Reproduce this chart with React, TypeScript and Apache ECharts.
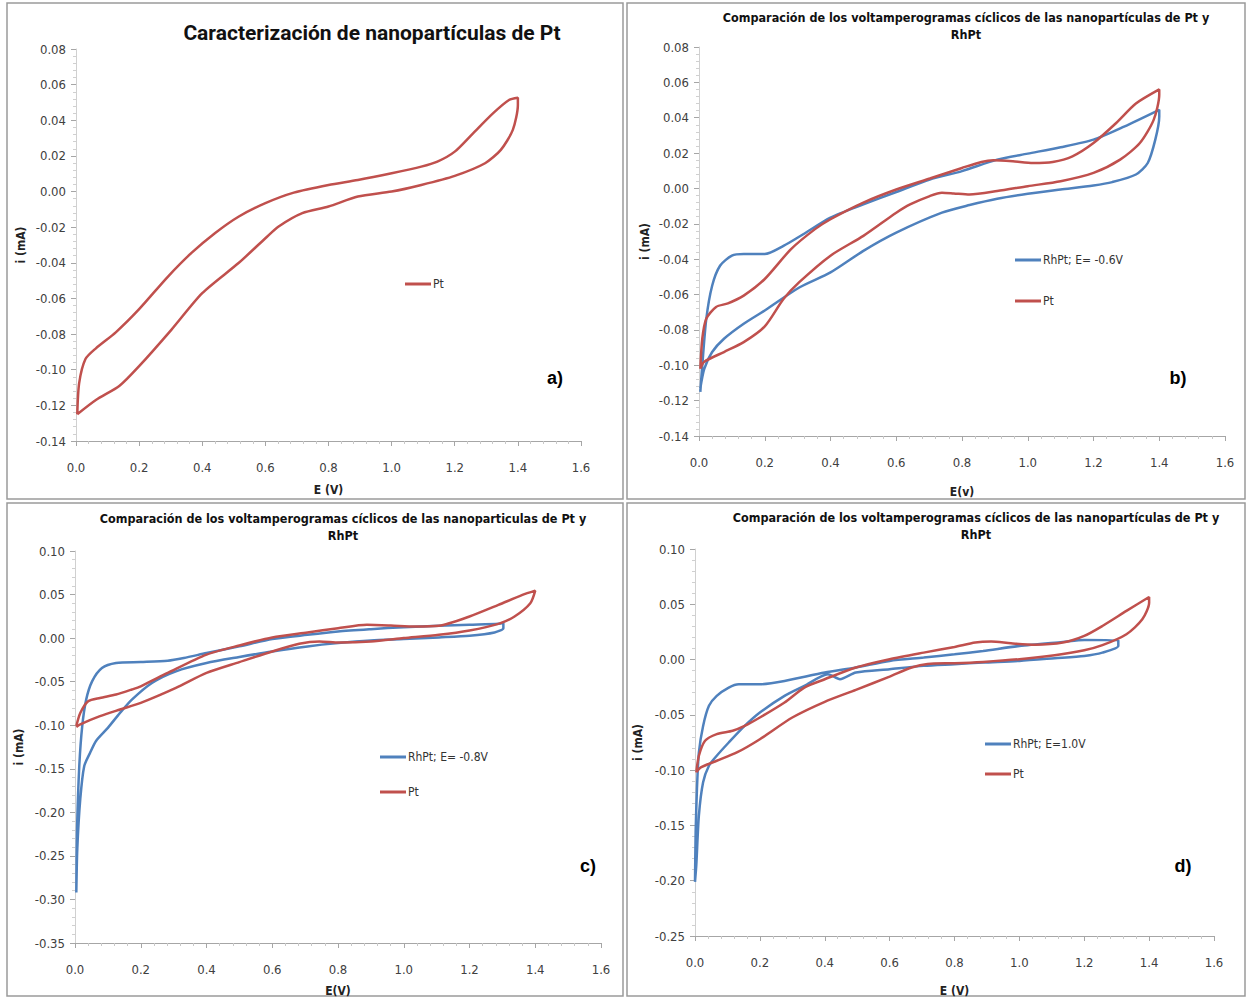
import React, { useEffect, useRef } from "react";
import * as echarts from "echarts";

// ---------- DATA ----------
const xTicks = [0, 0.2, 0.4, 0.6, 0.8, 1.0, 1.2, 1.4, 1.6];

const titleA = "Caracterización de nanopartículas de Pt";
const titleB = "Comparación de los voltamperogramas cíclicos de las nanopartículas de Pt y\nRhPt";
const titleC = "Comparación de los voltamperogramas cíclicos de las nanoparticulas de Pt y\nRhPt";
const titleD = "Comparación de los voltamperogramas cíclicos de las nanopartículas de Pt y\nRhPt";

const nameRhB = "RhPt; E= -0.6V";
const nameRhC = "RhPt; E= -0.8V";
const nameRhD = "RhPt; E=1.0V";
const namePt = "Pt";

// Panel a) Pt
const ptA: number[][] = [
  [0.004, -0.125], [0.01, -0.1075], [0.03, -0.094], [0.063, -0.088], [0.126, -0.079],
  [0.2, -0.066], [0.29, -0.048], [0.365, -0.0346], [0.44, -0.0234], [0.516, -0.014],
  [0.6, -0.0065], [0.69, -0.0006], [0.8, 0.0037], [0.893, 0.0065], [1.0, 0.0103],
  [1.094, 0.014], [1.145, 0.0168], [1.2, 0.0224], [1.258, 0.0327], [1.321, 0.0439],
  [1.372, 0.0514], [1.4, 0.0527], [1.4, 0.0486], [1.384, 0.0346], [1.346, 0.0234],
  [1.296, 0.0159], [1.2, 0.0088], [1.094, 0.0037], [1.0, 0.0], [0.893, -0.0028],
  [0.8, -0.0084], [0.717, -0.0121], [0.642, -0.0196], [0.6, -0.0262], [0.516, -0.04],
  [0.4, -0.057], [0.302, -0.0776], [0.2, -0.098], [0.138, -0.109], [0.063, -0.117],
  [0.004, -0.125],
];

// Panel b) Pt and RhPt E=-0.6V
const ptB: number[][] = [
  [0.004, -0.102], [0.01, -0.085], [0.022, -0.0737], [0.052, -0.067], [0.088, -0.065],
  [0.136, -0.0606], [0.2, -0.0512], [0.28, -0.0343], [0.353, -0.023], [0.4, -0.0174],
  [0.5, -0.008], [0.6, -0.0006], [0.702, 0.0056], [0.8, 0.0116], [0.859, 0.015],
  [0.895, 0.016], [0.955, 0.0154], [1.016, 0.0144], [1.076, 0.015], [1.136, 0.0182],
  [1.2, 0.0257], [1.269, 0.037], [1.329, 0.048], [1.4, 0.056], [1.4, 0.053],
  [1.383, 0.0388], [1.341, 0.0257], [1.281, 0.0163], [1.2, 0.0088], [1.1, 0.0041],
  [1.0, 0.0013], [0.907, -0.0015], [0.823, -0.0034], [0.775, -0.0028], [0.739, -0.0024],
  [0.702, -0.0043], [0.642, -0.009], [0.6, -0.0137], [0.5, -0.0268], [0.4, -0.038],
  [0.305, -0.053], [0.257, -0.0625], [0.2, -0.078], [0.136, -0.0869], [0.076, -0.0925],
  [0.016, -0.098], [0.004, -0.102],
];
const rhB: number[][] = [
  [0.004, -0.115], [0.01, -0.1], [0.022, -0.074], [0.04, -0.055], [0.064, -0.0437],
  [0.1, -0.038], [0.136, -0.0371], [0.2, -0.0371], [0.257, -0.0325], [0.317, -0.0259],
  [0.4, -0.0165], [0.5, -0.009], [0.6, -0.002], [0.702, 0.0051], [0.8, 0.0098],
  [0.907, 0.0163], [1.0, 0.0197], [1.1, 0.0233], [1.2, 0.0276], [1.293, 0.035],
  [1.4, 0.0445], [1.4, 0.0407], [1.388, 0.0276], [1.365, 0.0144], [1.329, 0.0079],
  [1.257, 0.0036], [1.2, 0.0017], [1.1, -0.0006], [1.0, -0.003], [0.907, -0.0058],
  [0.823, -0.0094], [0.739, -0.0137], [0.6, -0.025], [0.5, -0.0353], [0.4, -0.0475],
  [0.305, -0.056], [0.2, -0.069], [0.136, -0.0765], [0.076, -0.085], [0.04, -0.0925],
  [0.016, -0.102], [0.004, -0.113],
];

// Panel c) Pt and RhPt E=-0.8V
const ptC: number[][] = [
  [0.004, -0.101], [0.016, -0.086], [0.04, -0.0725], [0.076, -0.0687], [0.125, -0.0648],
  [0.173, -0.059], [0.2, -0.0553], [0.282, -0.04], [0.4, -0.019], [0.5, -0.0084],
  [0.6, 0.0008], [0.707, 0.0065], [0.8, 0.0114], [0.888, 0.0153], [0.961, 0.0145],
  [1.034, 0.0133], [1.107, 0.0141], [1.2, 0.0248], [1.288, 0.0381], [1.361, 0.0496],
  [1.4, 0.0545], [1.385, 0.04], [1.337, 0.0248], [1.288, 0.0164], [1.2, 0.0088],
  [1.107, 0.0038], [1.0, 0.0], [0.9, -0.0038], [0.804, -0.005], [0.743, -0.0038],
  [0.682, -0.0065], [0.6, -0.0153], [0.5, -0.0275], [0.4, -0.04], [0.307, -0.0572],
  [0.2, -0.0744], [0.137, -0.082], [0.076, -0.0896], [0.016, -0.099], [0.004, -0.102],
];
const rhC: number[][] = [
  [0.004, -0.292], [0.006, -0.223], [0.013, -0.147], [0.022, -0.101], [0.034, -0.0706],
  [0.052, -0.0496], [0.082, -0.0343], [0.125, -0.0286], [0.2, -0.0275], [0.282, -0.026],
  [0.331, -0.0229], [0.4, -0.0172], [0.5, -0.0095], [0.6, -0.0011], [0.707, 0.0038],
  [0.8, 0.0076], [0.9, 0.0103], [1.0, 0.0126], [1.107, 0.0141], [1.2, 0.0153],
  [1.288, 0.0164], [1.303, 0.0172], [1.303, 0.0114], [1.276, 0.0065], [1.2, 0.0027],
  [1.107, 0.0008], [1.0, -0.0011], [0.9, -0.0027], [0.8, -0.0057], [0.707, -0.0095],
  [0.6, -0.0153], [0.5, -0.0217], [0.4, -0.0286], [0.307, -0.0381], [0.234, -0.0515],
  [0.173, -0.0706], [0.137, -0.0858], [0.1, -0.103], [0.064, -0.118], [0.046, -0.1316],
  [0.028, -0.147], [0.016, -0.185], [0.007, -0.242], [0.004, -0.292],
];

// Panel d) Pt and RhPt E=1.0V
const ptD: number[][] = [
  [0.004, -0.102], [0.012, -0.087], [0.031, -0.0734], [0.067, -0.0674], [0.116, -0.0644],
  [0.153, -0.06], [0.2, -0.0524], [0.276, -0.0388], [0.337, -0.0253], [0.4, -0.0178],
  [0.496, -0.0072], [0.6, 0.0003], [0.705, 0.0063], [0.8, 0.0114], [0.864, 0.0154],
  [0.913, 0.0163], [0.974, 0.0147], [1.048, 0.0135], [1.134, 0.0154], [1.2, 0.0214],
  [1.256, 0.0304], [1.33, 0.044], [1.4, 0.0566], [1.4, 0.0515], [1.379, 0.0364],
  [1.33, 0.0229], [1.256, 0.013], [1.2, 0.0084], [1.109, 0.0039], [1.0, 0.0003],
  [0.888, -0.0021], [0.8, -0.0033], [0.717, -0.0039], [0.668, -0.0072], [0.6, -0.0154],
  [0.496, -0.0274], [0.4, -0.0382], [0.3, -0.0524], [0.2, -0.072], [0.129, -0.084],
  [0.067, -0.0915], [0.018, -0.0975], [0.004, -0.102],
];
const rhD: number[][] = [
  [0.0, -0.201], [0.002, -0.156], [0.006, -0.117], [0.012, -0.084], [0.025, -0.06],
  [0.043, -0.0418], [0.067, -0.0328], [0.104, -0.0253], [0.135, -0.0223], [0.2, -0.0223],
  [0.276, -0.0193], [0.4, -0.0117], [0.496, -0.0072], [0.6, -0.0012], [0.705, 0.0018],
  [0.8, 0.0048], [0.888, 0.0078], [1.0, 0.0123], [1.134, 0.016], [1.2, 0.0178],
  [1.305, 0.0175], [1.305, 0.0123], [1.256, 0.0063], [1.2, 0.0033], [1.109, 0.0012],
  [1.0, -0.0012], [0.888, -0.0027], [0.8, -0.0042], [0.705, -0.0057], [0.6, -0.0087],
  [0.496, -0.0117], [0.447, -0.0178], [0.41, -0.0132], [0.337, -0.0238], [0.276, -0.0328],
  [0.2, -0.0479], [0.153, -0.06], [0.104, -0.075], [0.067, -0.087], [0.043, -0.096],
  [0.025, -0.111], [0.012, -0.141], [0.004, -0.186], [0.0, -0.201],
];

// ---------- STYLE ----------
const RED = "#C0504D";
const BLUE = "#4F81BD";
const NARROW = "'Liberation Sans Narrow', 'Arial Narrow', 'DejaVu Sans Condensed', sans-serif";
const TITLE_A_FONT = "Roboto, 'Liberation Sans', sans-serif";

function xAxisCfg(gridIndex: number, name: string, nameGap: number) {
  return {
    type: "value",
    gridIndex,
    min: xTicks[0],
    max: xTicks[xTicks.length - 1],
    interval: 0.2,
    name,
    nameLocation: "middle",
    nameGap,
    nameTextStyle: { fontWeight: "bold", fontSize: 12, color: "#222", fontFamily: NARROW },
    axisLine: { onZero: false, lineStyle: { color: "#a6a6a6", width: 1 } },
    axisTick: { show: true, length: 5, lineStyle: { color: "#a6a6a6" } },
    minorTick: { show: true, splitNumber: 5, length: 3, lineStyle: { color: "#c8c8c8" } },
    splitLine: { show: false },
    axisLabel: {
      formatter: (v: number) => v.toFixed(1),
      margin: 20,
      fontSize: 13,
      color: "#404040",
      fontFamily: NARROW,
    },
  };
}

function yAxisCfg(gridIndex: number, min: number, max: number, interval: number, nameGap: number) {
  return {
    type: "value",
    gridIndex,
    min,
    max,
    interval,
    name: "i (mA)",
    nameLocation: "middle",
    nameGap,
    nameRotate: 90,
    nameTextStyle: { fontWeight: "bold", fontSize: 12, color: "#222", fontFamily: NARROW },
    axisLine: { onZero: false, lineStyle: { color: "#d0d0d0", width: 1 } },
    axisTick: { show: true, length: 5, lineStyle: { color: "#a6a6a6" } },
    minorTick: { show: true, splitNumber: 5, length: 3, lineStyle: { color: "#d0d0d0" } },
    splitLine: { show: false },
    axisLabel: {
      formatter: (v: number) => v.toFixed(2),
      margin: 10,
      fontSize: 13,
      color: "#404040",
      fontFamily: NARROW,
    },
  };
}

function lineSeries(name: string, data: number[][], idx: number, color: string) {
  return {
    type: "line",
    name,
    data,
    xAxisIndex: idx,
    yAxisIndex: idx,
    symbol: "none",
    showSymbol: false,
    smooth: 0.25,
    lineStyle: { color, width: 2.5 },
    itemStyle: { color },
  };
}

function legendCfg(left: number, top: number, data: string[], itemGap: number) {
  return {
    left,
    top,
    orient: "vertical",
    icon: "rect",
    itemWidth: 26,
    itemHeight: 3,
    itemGap,
    data,
    textStyle: { fontSize: 12, color: "#333", fontFamily: NARROW, padding: [0, 0, 0, -3] },
  };
}

function titleText(x: number, y: number, text: string, font: string, lineHeight: number) {
  return {
    type: "text",
    x,
    y,
    style: {
      text,
      fill: "#111",
      font,
      textAlign: "center",
      textVerticalAlign: "top",
      lineHeight,
    },
  };
}

function panelLabel(x: number, y: number, text: string) {
  return {
    type: "text",
    x,
    y,
    style: {
      text,
      fill: "#000",
      font: "bold 18px 'Liberation Sans', Arial, sans-serif",
      textAlign: "center",
      textVerticalAlign: "middle",
    },
  };
}

function frame(x1: number, y1: number, x2: number, y2: number) {
  return {
    type: "rect",
    shape: { x: x1, y: y1, width: x2 - x1, height: y2 - y1 },
    style: { fill: "none", stroke: "#9a9a9a", lineWidth: 1.5 },
    silent: true,
  };
}

export default function App() {
  const ref = useRef<HTMLDivElement>(null);

  useEffect(() => {
    if (!ref.current) return;
    const chart = echarts.init(ref.current, null, { renderer: "svg" });
    const smallTitle = `bold 12.5px ${NARROW}`;
    chart.setOption({
      animation: false,
      backgroundColor: "#ffffff",
      grid: [
        { left: 76, top: 49, width: 505, height: 392 },
        { left: 699, top: 47, width: 526, height: 389 },
        { left: 75, top: 551, width: 526, height: 393 },
        { left: 695, top: 549, width: 519, height: 388 },
      ],
      xAxis: [
        xAxisCfg(0, "E (V)", 43),
        xAxisCfg(1, "E(v)", 50),
        xAxisCfg(2, "E(V)", 42),
        xAxisCfg(3, "E (V)", 49),
      ],
      yAxis: [
        yAxisCfg(0, -0.14, 0.08, 0.02, 49),
        yAxisCfg(1, -0.14, 0.08, 0.02, 48),
        yAxisCfg(2, -0.35, 0.1, 0.05, 50),
        yAxisCfg(3, -0.25, 0.1, 0.05, 51),
      ],
      legend: [
        legendCfg(400, 273, [namePt], 10),
        legendCfg(1010, 249, [nameRhB, namePt], 29),
        legendCfg(375, 746, [nameRhC, namePt], 23),
        legendCfg(980, 733, [nameRhD, namePt], 18),
      ],
      series: [
        lineSeries(namePt, ptA, 0, RED),
        lineSeries(nameRhB, rhB, 1, BLUE),
        lineSeries(namePt, ptB, 1, RED),
        lineSeries(nameRhC, rhC, 2, BLUE),
        lineSeries(namePt, ptC, 2, RED),
        lineSeries(nameRhD, rhD, 3, BLUE),
        lineSeries(namePt, ptD, 3, RED),
      ],
      graphic: [
        frame(7, 3, 623, 499),
        frame(627, 3, 1245, 499),
        frame(7, 503, 623, 996),
        frame(627, 503, 1245, 996),
        titleText(372, 20, titleA, `bold 21px ${TITLE_A_FONT}`, 26),
        titleText(966, 9, titleB, smallTitle, 17),
        titleText(343, 510, titleC, smallTitle, 17),
        titleText(976, 509, titleD, smallTitle, 17),
        panelLabel(555, 378, "a)"),
        panelLabel(1178, 378, "b)"),
        panelLabel(588, 866, "c)"),
        panelLabel(1183, 866, "d)"),
      ],
    });
    return () => chart.dispose();
  }, []);

  return (
    <div
      ref={ref}
      style={{ position: "absolute", left: 0, top: 0, width: 1247, height: 998, background: "#fff" }}
    />
  );
}
